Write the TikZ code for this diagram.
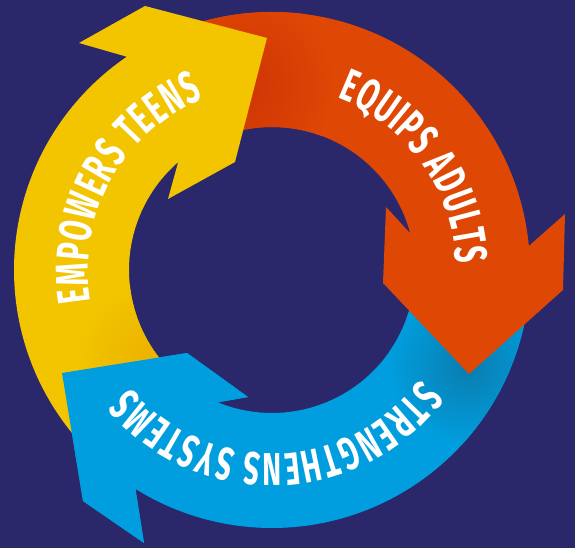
\documentclass[tikz,border=0pt]{standalone}
\usepackage{fontspec}
\usetikzlibrary{calc,decorations.text}

\newfontfamily\arrowfont{Fira Sans}[FakeStretch=0.62]
\definecolor{navybg}{RGB}{42,39,106}
\definecolor{teenyellow}{RGB}{242,197,0}
\definecolor{teenshade}{RGB}{236,178,0}
\definecolor{adultorange}{RGB}{223,71,5}
\definecolor{adultshade}{RGB}{205,52,5}
\definecolor{systemblue}{RGB}{0,158,222}
\definecolor{systemshade}{RGB}{10,125,176}

\newcommand\arrowlabel{\color{white}\arrowfont\bfseries\fontsize{46}{46}\selectfont\kern1.2pt}

% arrow outlines (outer arc, head, inner arc back)
\newcommand\teenarrow{($(hub)+(228:258)$) arc[start angle=228, end angle=124.25, radius=258]
  -- (79,505) -- (145,542) -- (267,510) -- (235,386) -- (168,349)
  -- ($(hub)+(131:143)$) arc[start angle=131, end angle=228, radius=143] -- cycle}
\newcommand\adultarrow{($(hub)+(110:258)$) arc[start angle=110, end angle=5.34, radius=258]
  -- (565,334) -- (563,258) -- (469,174) -- (383,265) -- (386,341)
  -- ($(hub)+(14.9:143)$) arc[start angle=14.9, end angle=110, radius=143] -- cycle}
\newcommand\systemarrow{($(hub)+(352:258)$) arc[start angle=352, end angle=238.04, radius=258]
  -- (144,5) -- (83,47) -- (62,175) -- (187,195) -- (248,151)
  -- ($(hub)+(247.75:143)$) arc[start angle=247.75, end angle=352, radius=143] -- cycle}
\newcommand\systemhead{($(hub)+(238.04:258)$)
  -- (144,5) -- (83,47) -- (62,175) -- (187,195) -- (248,151)
  -- ($(hub)+(247.75:143)$) -- cycle}

\begin{document}
\begin{tikzpicture}[x=1pt, y=1pt,
    label path/.style={decorate, decoration={text along path, text align=center, text={|\arrowlabel|#1}}}]
  \useasboundingbox (0,0) rectangle (575,548);
  \fill[navybg] (0,0) rectangle (575,548);
  \coordinate (hub) at (272,278);

  % Blue arrow, darker under the orange tip
  \fill[systemblue] \systemarrow;
  \begin{scope}
    \clip \systemarrow;
    \shade[inner color=systemshade, outer color=systemblue] (468,182) circle (80);
  \end{scope}

  % Orange arrow, darker under the yellow head
  \fill[adultorange] \adultarrow;
  \begin{scope}
    \clip \adultarrow;
    \shade[inner color=adultshade, outer color=adultorange] (240,462) circle (95);
  \end{scope}

  % Yellow arrow, darker under the blue head
  \fill[teenyellow] \teenarrow;
  \begin{scope}
    \clip \teenarrow;
    \shade[inner color=teenshade, outer color=teenyellow] (150,190) circle (75);
  \end{scope}

  % Blue head lies on the yellow tail
  \fill[systemblue] \systemhead;

  % Labels
  \path[label path={EMPOWERS TEENS}] ($(hub)+(221:184)$) arc[start angle=221, end angle=81, radius=184];
  \path[label path={EQUIPS ADULTS}] ($(hub)+(105.75:184)$) arc[start angle=105.75, end angle=-34.25, radius=184];
  \path[label path={STRENGTHENS SYSTEMS}] ($(hub)+(341.8:184)$) arc[start angle=341.8, end angle=201.8, radius=184];
\end{tikzpicture}
\end{document}
